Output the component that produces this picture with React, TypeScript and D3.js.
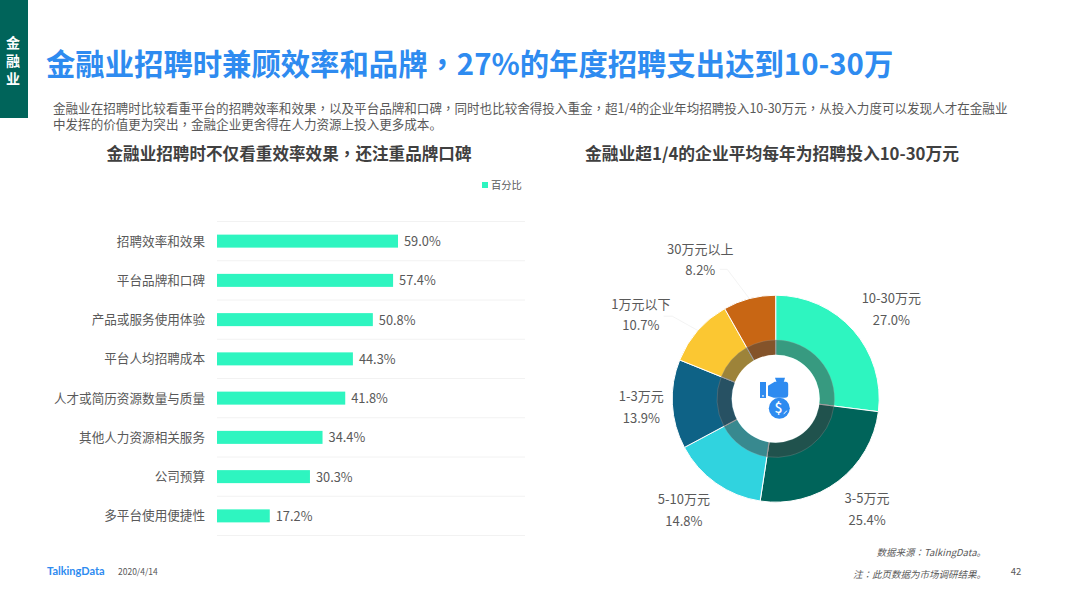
import React from "react";
import * as d3 from "d3";

const barCategories = ["招聘效率和效果","平台品牌和口碑","产品或服务使用体验","平台人均招聘成本","人才或简历资源数量与质量","其他人力资源相关服务","公司预算","多平台使用便捷性"];
const barValues = [59.0,57.4,50.8,44.3,41.8,34.4,30.3,17.2];
const donutCategories = ["10-30万元","3-5万元","5-10万元","1-3万元","1万元以下","30万元以上"];
const donutValues = [27.0,25.4,14.8,13.9,10.7,8.2];
const donutColors = ["#2EF5C0","#00645A","#30D3DF","#0E6286","#FBC732","#C86614"];
const paragraph = [
  "金融业在招聘时比较看重平台的招聘效率和效果，以及平台品牌和口碑，同时也比较舍得投入重金，超1/4的企业年均招聘投入10-30万元，从投入力度可以发现人才在金融业",
  "中发挥的价值更为突出，金融企业更舍得在人力资源上投入更多成本。",
];
// label placement, relative to the slice's outer arc point
const labelOffsets: [number, number][] = [[38,-27],[29,22],[-32,21],[-31,-3],[-57,-22],[-49,-45]];

const FONT = "'Noto Sans CJK SC','Noto Sans',sans-serif";
const TEXT = "#595959";

// centred full-width punctuation, as in the reference
const punct = (t: string) =>
  t.split(/(，|：)/).map((s, i) =>
    s === "，" || s === "：" ? <tspan key={i} fontFamily="'Noto Sans CJK TC'">{s}</tspan> : <tspan key={i}>{s}</tspan>
  );

export default function App() {
  const x = d3.scaleLinear().domain([0, 59]).range([217, 398]);
  const y = d3.scaleBand<string>().domain(barCategories).range([221.5, 535.5]);
  const cx = 775.7, cy = 398.7, R = 103.5;
  const pie = d3.pie<number>().sort(null).value((d) => d)(donutValues);
  const outer = d3.arc<d3.PieArcDatum<number>>().innerRadius(0).outerRadius(R);
  const ring = d3.arc<d3.PieArcDatum<number>>().innerRadius(44).outerRadius(58.7);
  const edge = (a: number, r: number): [number, number] => [Math.sin(a) * r, -Math.cos(a) * r];

  return (
    <svg width={1066} height={599} viewBox="0 0 1066 599"
      style={{ position: "absolute", left: 0, top: 0, display: "block", background: "#fff" }} fontFamily={FONT}>
      <rect x={0} y={0} width={28} height={118} fill="#00645A" />
      {["金","融","业"].map((c, i) => (
        <text key={c} x={13} y={48 + i * 18} textAnchor="middle" fontSize={14} fontWeight={700} fill="#fff">{c}</text>
      ))}
      <text x={46} y={75} fontSize={29.35} fontWeight={700} fill="#2E8BF0">{punct("金融业招聘时兼顾效率和品牌，27%的年度招聘支出达到10-30万")}</text>
      {paragraph.map((t, i) => (
        <text key={i} x={53} y={113 + i * 16} fontSize={12.55} fill={TEXT}>{punct(t)}</text>
      ))}
      <text x={289} y={160} textAnchor="middle" fontSize={16.6} fontWeight={700} fill="#404040">{punct("金融业招聘时不仅看重效率效果，还注重品牌口碑")}</text>
      <text x={772} y={160} textAnchor="middle" fontSize={16.8} fontWeight={700} fill="#404040">金融业超1/4的企业平均每年为招聘投入10-30万元</text>

      <rect x={482} y={182} width={6} height={6} fill={donutColors[0]} />
      <text x={491} y={189} fontSize={10.3} fill={TEXT}>百分比</text>

      {[...barCategories, "__end"].map((c, i) => {
        const yy = 221.5 + i * y.step();
        return <line key={c} x1={217} x2={525} y1={yy} y2={yy} stroke="#f2f2f2" strokeWidth={1} />;
      })}
      {barCategories.map((c, i) => {
        const mid = y(c)! + y.bandwidth() / 2;
        return (
          <g key={c}>
            <rect x={x(0)} y={mid - 6.5} width={x(barValues[i]) - x(0)} height={13} fill={donutColors[0]} />
            <text x={205} y={mid + 4.5} textAnchor="end" fontSize={12.6} fill={TEXT}>{c}</text>
            <text x={x(barValues[i]) + 6} y={mid + 5} fontSize={12.8} fill={TEXT}>{barValues[i].toFixed(1)}%</text>
          </g>
        );
      })}

      <g transform={`translate(${cx},${cy})`}>
        {pie.map((p, i) => (
          <path key={i} d={outer(p)!} fill={donutColors[i]} stroke="#fff" strokeWidth={1} />
        ))}
        {pie.map((p, i) => (
          <path key={i} d={ring(p)!} fill="#404040" fillOpacity={0.5} stroke="#999" strokeWidth={0.5} strokeOpacity={0.6} />
        ))}
        <circle r={44} fill="#fff" />
        {pie.map((p, i) => {
          const a = (p.startAngle + p.endAngle) / 2;
          const [ex, ey] = edge(a, R);
          const [dx, dy] = labelOffsets[i];
          return (
            <g key={i} fontSize={13} fill={TEXT} textAnchor="middle">
              {i >= 4 && (
                <polyline fill="none" stroke="#eeeeee" strokeWidth={0.7}
                  points={`${ex},${ey} ${ex + dx * 0.45},${ey + dy * 0.65} ${ex + dx * 0.6},${ey + dy * 0.65}`} />
              )}
              <text x={ex + dx} y={ey + dy}>{donutCategories[i]}</text>
              <text x={ex + dx} y={ey + dy + 21.5}>{donutValues[i].toFixed(1)}%</text>
            </g>
          );
        })}
        <g fill="#2E8BF0">
          <rect x={-15.7} y={-16.7} width={6} height={16} />
          <rect x={-13.4} y={-3.6} width={1.4} height={1.6} fill="#fff" />
          <path d="M-7.7,-13 L-1,-17 L10,-17 Q12.5,-17 12.5,-14 L12.5,-4 Q12.5,-1 9,-1 L-2,-1 L-7.7,-3 Z" />
          <path d="M-0.7,-21 H9.3 L8,-16.5 H1 Z" />
          <circle cx={3.6} cy={9.6} r={10.5} />
        </g>
        <text x={2.8} y={14.6} textAnchor="middle" fontSize={14} fontWeight={500} fill="#fff">$</text>
        <path d="M8,15 q2,-1 3,-3" fill="none" stroke="#fff" strokeWidth={1} />
      </g>

      <text x={986} y={556} textAnchor="end" fontSize={9.5} fontStyle="italic" fill={TEXT}>{punct("数据来源：TalkingData。")}</text>
      <text x={986} y={578} textAnchor="end" fontSize={9.5} fontStyle="italic" fill={TEXT}>{punct("注：此页数据为市场调研结果。")}</text>
      <text x={1016} y={575} textAnchor="middle" fontSize={9.5} fill={TEXT}>42</text>
      <text x={47} y={575} fontSize={11} fontWeight={700} fill="#2E8BF0" fontFamily="Lato, sans-serif">TalkingData</text>
      <text x={118} y={575} fontSize={8.5} fill={TEXT}>2020/4/14</text>
    </svg>
  );
}
